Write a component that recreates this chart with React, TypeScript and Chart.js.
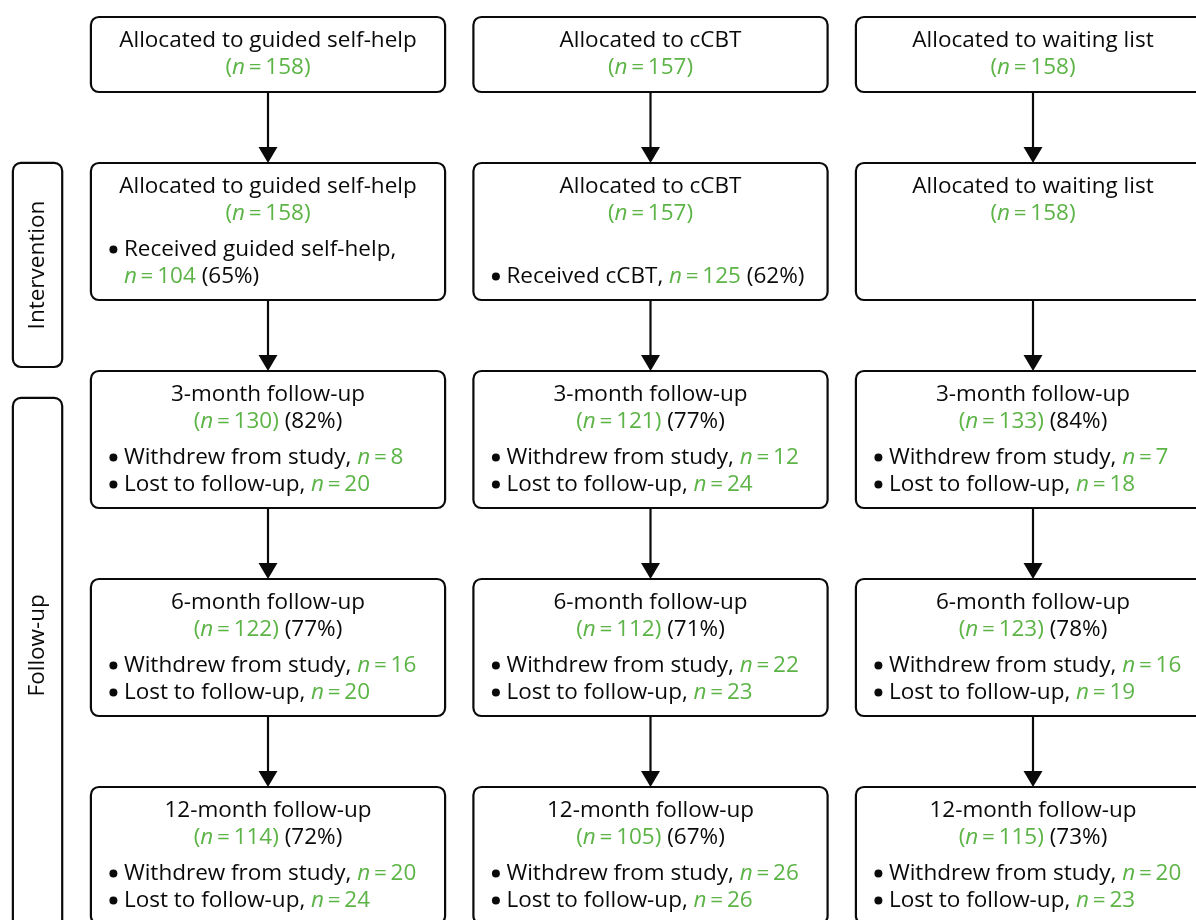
import { useEffect, useRef } from 'react';
import { Chart, registerables, type Plugin } from 'chart.js';

Chart.register(...registerables);

// groups (columns) and stages (rows) of the flow diagram
const GROUPS = ['guided self-help', 'cCBT', 'waiting list'];
const ALLOCATED_N = [158, 157, 158];
const RECEIVED_LABEL = ['Received guided self-help,', 'Received cCBT,', null];
const RECEIVED_N = [104, 125, null];
const RECEIVED_PCT = [65, 62, null];

const FOLLOW_UPS = ['3-month follow-up', '6-month follow-up', '12-month follow-up'];
const FOLLOW_UP_N = [
  [130, 121, 133],
  [122, 112, 123],
  [114, 105, 115],
];
const FOLLOW_UP_PCT = [
  [82, 77, 84],
  [77, 71, 78],
  [72, 67, 73],
];
const WITHDREW_N = [
  [8, 12, 7],
  [16, 22, 16],
  [20, 26, 20],
];
const LOST_N = [
  [20, 24, 18],
  [20, 23, 19],
  [24, 26, 23],
];

const PHASES = ['Intervention', 'Follow-up'];

const GREEN = '#5cb447';
const INK = '#0a0a0a';
const FONT = '"Open Sans", "Noto Sans", sans-serif';
const FS = 22.5;

type Seg = { t: string; g?: boolean; i?: boolean };
type Line = { segs: Seg[]; kind: 'center' | 'bullet' | 'indent'; slot: number };

const nEq = (n: number): Seg[] => [
  { t: 'n', g: true, i: true },
  { t: '\u2009=\u2009' + n, g: true },
];
const nParen = (n: number): Seg[] => [{ t: '(', g: true }, ...nEq(n), { t: ')', g: true }];

function boxLines(stage: number, col: number): Line[] {
  if (stage <= 1) {
    const lines: Line[] = [
      { segs: [{ t: 'Allocated to ' + GROUPS[col] }], kind: 'center', slot: 0 },
      { segs: nParen(ALLOCATED_N[col]), kind: 'center', slot: 1 },
    ];
    if (stage === 1 && RECEIVED_N[col] != null) {
      const tail: Seg[] = [...nEq(RECEIVED_N[col] as number), { t: ' (' + RECEIVED_PCT[col] + '%)' }];
      const label = RECEIVED_LABEL[col] as string;
      if (label.length > 20) {
        lines.push({ segs: [{ t: label }], kind: 'bullet', slot: 2 });
        lines.push({ segs: tail, kind: 'indent', slot: 3 });
      } else {
        lines.push({ segs: [{ t: label + ' ' }, ...tail], kind: 'bullet', slot: 3 });
      }
    }
    return lines;
  }
  const f = stage - 2;
  return [
    { segs: [{ t: FOLLOW_UPS[f] }], kind: 'center', slot: 0 },
    { segs: [...nParen(FOLLOW_UP_N[f][col]), { t: ' (' + FOLLOW_UP_PCT[f][col] + '%)' }], kind: 'center', slot: 1 },
    { segs: [{ t: 'Withdrew from study, ' }, ...nEq(WITHDREW_N[f][col])], kind: 'bullet', slot: 2 },
    { segs: [{ t: 'Lost to follow-up, ' }, ...nEq(LOST_N[f][col])], kind: 'bullet', slot: 3 },
  ];
}

// layout in scale units
const BOX_HALF_W = 0.463; // columns
const BOX_H = [0.3606, 0.6587, 0.6587, 0.6587, 0.6587]; // stages, measured upward from each box bottom
const SLOT_OFFSETS = [24, 51, 87, 114]; // px from box top
const PHASE_X = [-0.667, -0.538];
const PHASE_SPANS = [
  [0.341, 1.322],
  [1.471, 4.2],
];
const PHASE_LABEL_Y = [0.832, 2.66];

function segFont(s: Seg) {
  return `${s.i ? 'italic ' : ''}${FS}px ${FONT}`;
}

function drawSegs(ctx: CanvasRenderingContext2D, segs: Seg[], x: number, y: number, center: boolean) {
  let w = 0;
  for (const s of segs) {
    ctx.font = segFont(s);
    w += ctx.measureText(s.t).width;
  }
  let cx = center ? x - w / 2 : x;
  ctx.textAlign = 'left';
  ctx.textBaseline = 'middle';
  for (const s of segs) {
    ctx.font = segFont(s);
    ctx.fillStyle = s.g ? GREEN : INK;
    ctx.fillText(s.t, cx, y);
    cx += ctx.measureText(s.t).width;
  }
}

function roundRect(ctx: CanvasRenderingContext2D, x0: number, y0: number, x1: number, y1: number, r: number) {
  ctx.beginPath();
  ctx.roundRect(x0, y0, x1 - x0, y1 - y0, r);
  ctx.stroke();
}

const flowPlugin: Plugin = {
  id: 'flow',
  afterDatasetsDraw(chart) {
    const { ctx } = chart;
    const xs = chart.scales.x;
    const ys = chart.scales.y;
    ctx.save();
    ctx.strokeStyle = INK;
    ctx.fillStyle = INK;
    ctx.lineWidth = 2.2;

    const pts = chart.data.datasets[0].data as { x: number; y: number }[];
    for (const p of pts) {
      const cx = xs.getPixelForValue(p.x);
      const x0 = xs.getPixelForValue(p.x - BOX_HALF_W);
      const x1 = xs.getPixelForValue(p.x + BOX_HALF_W);
      const yb = ys.getPixelForValue(p.y);
      const yt = ys.getPixelForValue(p.y - BOX_H[p.y]);
      ctx.strokeStyle = INK;
      roundRect(ctx, x0, yt, x1, yb, 8);
      for (const ln of boxLines(p.y, p.x)) {
        const ly = yt + SLOT_OFFSETS[ln.slot];
        if (ln.kind === 'center') drawSegs(ctx, ln.segs, cx, ly, true);
        else {
          if (ln.kind === 'bullet') {
            ctx.beginPath();
            ctx.arc(x0 + 22.5, ly - 0.5, 4, 0, Math.PI * 2);
            ctx.fillStyle = INK;
            ctx.fill();
          }
          drawSegs(ctx, ln.segs, x0 + 33, ly, false);
        }
      }
      // arrow to the next stage
      if (p.y < BOX_H.length - 1) {
        const ny = ys.getPixelForValue(p.y + 1 - BOX_H[p.y + 1]);
        ctx.beginPath();
        ctx.moveTo(cx, yb);
        ctx.lineTo(cx, ny - 14);
        ctx.stroke();
        ctx.beginPath();
        ctx.moveTo(cx - 9.5, ny - 16);
        ctx.lineTo(cx + 9.5, ny - 16);
        ctx.lineTo(cx, ny);
        ctx.closePath();
        ctx.fillStyle = INK;
        ctx.fill();
      }
    }

    // phase brackets on the left
    PHASES.forEach((label, i) => {
      const x0 = xs.getPixelForValue(PHASE_X[0]);
      const x1 = xs.getPixelForValue(PHASE_X[1]);
      const y0 = ys.getPixelForValue(PHASE_SPANS[i][0]);
      const y1 = ys.getPixelForValue(PHASE_SPANS[i][1]);
      ctx.strokeStyle = INK;
      roundRect(ctx, x0, y0, x1, y1, 8);
      ctx.save();
      ctx.translate((x0 + x1) / 2, ys.getPixelForValue(PHASE_LABEL_Y[i]));
      ctx.rotate(-Math.PI / 2);
      ctx.font = `${FS}px ${FONT}`;
      ctx.fillStyle = INK;
      ctx.textAlign = 'center';
      ctx.textBaseline = 'middle';
      ctx.fillText(label, 0, 0);
      ctx.restore();
    });
    ctx.restore();
  },
};

export default function App() {
  const canvasRef = useRef<HTMLCanvasElement>(null);

  useEffect(() => {
    if (!canvasRef.current) return;
    const points: { x: number; y: number }[] = [];
    GROUPS.forEach((_, col) => {
      for (let stage = 0; stage < BOX_H.length; stage++) points.push({ x: col, y: stage });
    });

    const chart = new Chart(canvasRef.current, {
      type: 'scatter',
      data: { datasets: [{ data: points, pointRadius: 0 }] },
      options: {
        responsive: false,
        animation: false,
        layout: { padding: 0 },
        plugins: { legend: { display: false }, tooltip: { enabled: false } },
        scales: {
          x: { type: 'linear', display: false, min: -0.70065, max: 2.42614 },
          y: { type: 'linear', display: false, reverse: true, min: -0.44231, max: 3.98077 },
        },
      },
      plugins: [flowPlugin],
    });
    return () => chart.destroy();
  }, []);

  return (
    <div style={{ position: 'absolute', left: 0, top: 0, width: 1196, height: 920, background: '#fff' }}>
      <canvas ref={canvasRef} width={1196} height={920} />
    </div>
  );
}
